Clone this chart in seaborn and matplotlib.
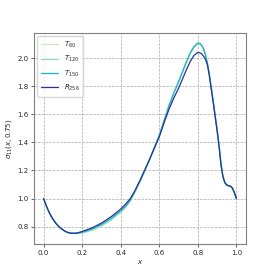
import matplotlib
matplotlib.use("Agg")
import matplotlib.pyplot as plt
import seaborn as sns

# sample positions
x = [0.0, 0.01, 0.02, 0.03, 0.04, 0.05, 0.06, 0.07, 0.08, 0.09, 0.1, 0.11, 0.12,
     0.13, 0.14, 0.15, 0.17, 0.2, 0.25, 0.3, 0.35, 0.4, 0.425, 0.45, 0.475, 0.5,
     0.525, 0.55, 0.575, 0.6, 0.625, 0.65, 0.675, 0.7, 0.72, 0.74, 0.76, 0.78,
     0.8, 0.81, 0.82, 0.83, 0.84, 0.85, 0.86, 0.87, 0.88, 0.89, 0.9, 0.91, 0.92,
     0.93, 0.94, 0.95, 0.96, 0.97, 0.98, 0.99, 1.0]

# all runs share the initial dip
dip = [1.0, 0.962, 0.928, 0.898, 0.872, 0.850, 0.830, 0.813, 0.799, 0.787, 0.777,
       0.768, 0.761, 0.756, 0.753, 0.752, 0.753]

t60 = dip + [0.752, 0.772, 0.803, 0.845, 0.900, 0.935, 0.980, 1.047, 1.12,
             1.198, 1.28, 1.365, 1.45, 1.555, 1.66, 1.752, 1.835,
             1.905, 1.975, 2.04, 2.085,
             2.11, 2.108, 2.095, 2.068, 2.022, 1.962, 1.882, 1.787, 1.69, 1.59, 1.49,
             1.38, 1.245, 1.16, 1.115, 1.098, 1.092, 1.088, 1.073, 1.04, 1.0]
t120 = dip + [0.756, 0.777, 0.809, 0.851, 0.906, 0.940, 0.985, 1.050, 1.122,
              1.199, 1.28, 1.365, 1.45, 1.555, 1.66, 1.751, 1.832,
              1.902, 1.972, 2.037, 2.082,
              2.108, 2.106, 2.093, 2.066, 2.021, 1.961, 1.881, 1.786, 1.69, 1.59, 1.49,
              1.38, 1.245, 1.16, 1.115, 1.098, 1.092, 1.088, 1.073, 1.04, 1.0]
t150 = dip + [0.760, 0.782, 0.815, 0.858, 0.912, 0.945, 0.990, 1.055, 1.125,
              1.2, 1.28, 1.365, 1.45, 1.555, 1.66, 1.75, 1.83,
              1.9, 1.97, 2.035, 2.08,
              2.105, 2.103, 2.09, 2.065, 2.02, 1.96, 1.88, 1.785, 1.69, 1.59, 1.49,
              1.38, 1.245, 1.16, 1.115, 1.098, 1.092, 1.088, 1.073, 1.04, 1.0]
r256 = dip + [0.765, 0.79, 0.825, 0.87, 0.925, 0.960, 1.0, 1.06, 1.13,
              1.205, 1.28, 1.36, 1.44, 1.54, 1.635, 1.715, 1.785,
              1.85, 1.915, 1.975, 2.02,
              2.04, 2.038, 2.03, 2.013, 1.99, 1.95, 1.87, 1.775, 1.68, 1.58, 1.48,
              1.37, 1.24, 1.155, 1.112, 1.095, 1.09, 1.087, 1.072, 1.04, 1.0]

series = [
    (r"$T_{60}$", t60, "#c7e9b4"),
    (r"$T_{120}$", t120, "#8ed8c4"),
    (r"$T_{150}$", t150, "#1fb3c6"),
    (r"$R_{256}$", r256, "#263494"),
]

sns.set_style("white")

fig = plt.figure(figsize=(2.74, 2.74), dpi=100)
ax = fig.add_axes([0.124, 0.109, 0.774, 0.771])

for label, vals, col in series:
    sns.lineplot(x=x, y=vals, ax=ax, label=label, color=col, linewidth=0.9)

ax.set_xlim(-0.05, 1.05)
ax.set_ylim(0.675, 2.18)
ax.set_xticks([0.0, 0.2, 0.4, 0.6, 0.8, 1.0])
ax.set_yticks([0.8, 1.0, 1.2, 1.4, 1.6, 1.8, 2.0])
ax.grid(True, linestyle="--", linewidth=0.5, color="#a8a8a8")
ax.tick_params(labelsize=5, length=2, width=0.5, pad=2, left=True, bottom=True)
for s in ax.spines.values():
    s.set_color("#808080")
    s.set_linewidth(0.8)

ax.set_xlabel(r"$x$", fontsize=5, labelpad=2)
ax.set_ylabel(r"$\sigma_{11}(x, 0.75)$", fontsize=5, labelpad=2)
ax.legend(loc="upper left", fontsize=5, frameon=True, handlelength=2.5,
          borderpad=0.5, labelspacing=0.6)

fig.savefig("out.png", dpi=100)
